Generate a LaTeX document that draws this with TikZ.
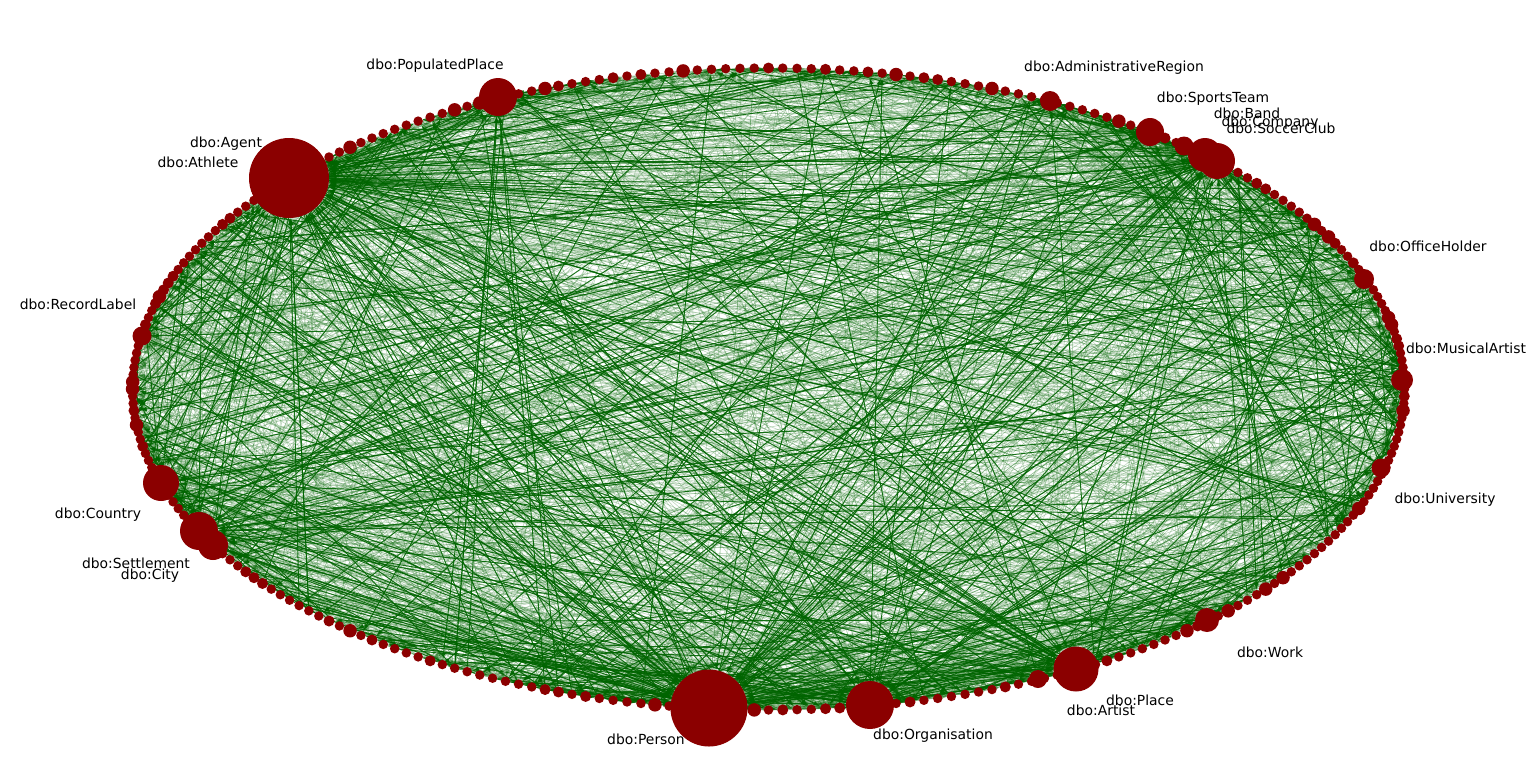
\documentclass[tikz,border=0pt]{standalone}
\usepackage{fontspec}
\setmainfont{DejaVu Sans}
\usetikzlibrary{arrows.meta,backgrounds}
\definecolor{nodered}{RGB}{139,0,0}
\definecolor{edgegreen}{RGB}{0,100,0}
\tikzset{
  dot/.style={circle,fill=nodered,inner sep=0pt,draw=none},
  thinedge/.style={draw=edgegreen,line width=0.6pt,opacity=0.25,-{Latex[length=7pt,width=4.5pt]}},
  thickedge/.style={draw=edgegreen,line width=0.95pt,opacity=0.9,-{Latex[length=7pt,width=4.5pt]}},
  lbl/.style={font=\fontsize{13.9}{16}\selectfont,text=black,inner sep=0pt}
}
\newcommand\hubedges[3]{%
  \foreach \n in {1,...,#2}{%
    \pgfmathrandominteger{\j}{0}{279}%
    \pgfmathrandominteger{\u}{0}{1}%
    \ifnum\u=0 \draw[thinedge] (#1) -- (r\j);\else \draw[thinedge] (r\j) -- (#1);\fi
  }%
  \foreach \n in {1,...,#3}{%
    \pgfmathrandominteger{\j}{0}{279}%
    \pgfmathrandominteger{\u}{0}{1}%
    \ifnum\u=0 \draw[thickedge] (#1) -- (r\j);\else \draw[thickedge] (r\j) -- (#1);\fi
  }%
}
\begin{document}
\begin{tikzpicture}[x=1pt,y=-1pt]
\useasboundingbox (0,0) rectangle (1536,777);
\pgfmathsetseed{12345}
% ring of nodes
\foreach \k in {0,...,279}{%
  \pgfmathsetmacro\ang{1.2857143*\k}%
  \pgfmathrandominteger{\sz}{0}{19}%
  \pgfmathsetmacro\dsz{ifthenelse(\sz>17,13.5,ifthenelse(\sz>13,11,9.5))}%
  \node[dot,minimum size=\dsz pt] (r\k) at ({768.5+636*cos(\ang)},{389-321*sin(\ang)}) {};
}
% labelled nodes
\node[dot,minimum size=16pt] (Athlete) at (262,194) {};
\node[dot,minimum size=80pt] (Agent) at (289,178) {};
\node[dot,minimum size=77pt] (Person) at (709,708) {};
\node[dot,minimum size=48pt] (Organisation) at (870,705) {};
\node[dot,minimum size=45pt] (Place) at (1076,669) {};
\node[dot,minimum size=18pt] (Artist) at (1038,679) {};
\node[dot,minimum size=24pt] (Work) at (1207,620) {};
\node[dot,minimum size=19pt] (University) at (1381,468) {};
\node[dot,minimum size=22pt] (MusicalArtist) at (1402,380) {};
\node[dot,minimum size=20pt] (OfficeHolder) at (1364,279) {};
\node[dot,minimum size=36pt] (SoccerClub) at (1217,161) {};
\node[dot,minimum size=34pt] (Company) at (1205,155) {};
\node[dot,minimum size=19pt] (Band) at (1184,146) {};
\node[dot,minimum size=28pt] (SportsTeam) at (1150,132) {};
\node[dot,minimum size=20pt] (AdministrativeRegion) at (1050,101) {};
\node[dot,minimum size=38pt] (PopulatedPlace) at (498,97) {};
\node[dot,minimum size=36pt] (Country) at (161,483) {};
\node[dot,minimum size=38pt] (Settlement) at (199,531) {};
\node[dot,minimum size=30pt] (City) at (213,545) {};
\node[dot,minimum size=19pt] (RecordLabel) at (142,336) {};
% labels
\node[lbl] (lPopulatedPlace) at (435,66) {dbo:PopulatedPlace};
\node[lbl] (lAdministrativeRegion) at (1114,68) {dbo:AdministrativeRegion};
\node[lbl] (lSportsTeam) at (1213,99) {dbo:SportsTeam};
\node[lbl] (lBand) at (1247,113) {dbo:Band};
\node[lbl] (lCompany) at (1270,123) {dbo:Company};
\node[lbl] (lSoccerClub) at (1281,128) {dbo:SoccerClub};
\node[lbl] (lAgent) at (226,144) {dbo:Agent};
\node[lbl] (lAthlete) at (198,162) {dbo:Athlete};
\node[lbl] (lOfficeHolder) at (1428,246) {dbo:OfficeHolder};
\node[lbl] (lMusicalArtist) at (1466,348) {dbo:MusicalArtist};
\node[lbl] (lUniversity) at (1445,500) {dbo:University};
\node[lbl] (lWork) at (1270,652) {dbo:Work};
\node[lbl] (lPlace) at (1140,700) {dbo:Place};
\node[lbl] (lArtist) at (1101,710) {dbo:Artist};
\node[lbl] (lOrganisation) at (933,736) {dbo:Organisation};
\node[lbl] (lPerson) at (646,739) {dbo:Person};
\node[lbl] (lRecordLabel) at (78,304) {dbo:RecordLabel};
\node[lbl] (lCountry) at (98,515) {dbo:Country};
\node[lbl] (lSettlement) at (136,563) {dbo:Settlement};
\node[lbl] (lCity) at (150,576) {dbo:City};
% edges
\begin{pgfonlayer}{background}
\foreach \n in {1,...,1500}{%
  \pgfmathrandominteger{\i}{0}{279}%
  \pgfmathrandominteger{\j}{0}{279}%
  \ifnum\i=\j\else\draw[thinedge] (r\i) -- (r\j);\fi
}
\foreach \n in {1,...,170}{%
  \pgfmathrandominteger{\i}{0}{279}%
  \pgfmathrandominteger{\j}{0}{279}%
  \ifnum\i=\j\else\draw[thickedge] (r\i) -- (r\j);\fi
}
\hubedges{Agent}{160}{70}
\hubedges{Person}{140}{60}
\hubedges{Organisation}{70}{30}
\hubedges{Place}{60}{25}
\hubedges{SoccerClub}{70}{30}
\hubedges{Company}{40}{15}
\hubedges{SportsTeam}{30}{12}
\hubedges{PopulatedPlace}{40}{15}
\hubedges{Country}{45}{18}
\hubedges{Settlement}{45}{18}
\hubedges{City}{30}{10}
\hubedges{Work}{20}{6}
\hubedges{Artist}{15}{5}
\hubedges{MusicalArtist}{15}{5}
\hubedges{OfficeHolder}{15}{5}
\hubedges{University}{12}{4}
\hubedges{AdministrativeRegion}{12}{4}
\hubedges{RecordLabel}{12}{4}
\hubedges{Band}{12}{4}
\end{pgfonlayer}
\end{tikzpicture}
\end{document}
